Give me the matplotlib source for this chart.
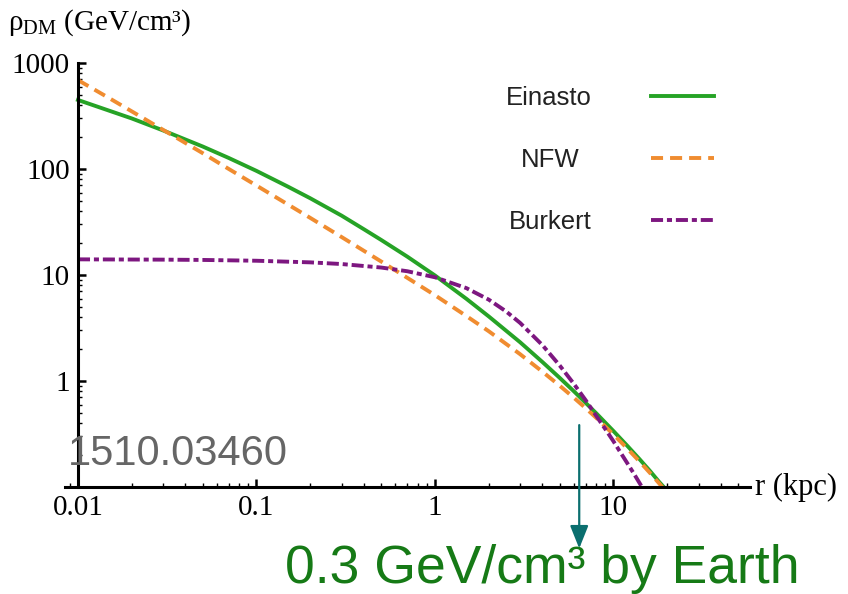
import numpy as np
import matplotlib
matplotlib.use("Agg")
import matplotlib.pyplot as plt

plt.rcParams['mathtext.fontset'] = 'custom'
plt.rcParams['mathtext.rm'] = 'Liberation Serif'
plt.rcParams['mathtext.it'] = 'Liberation Serif:italic'

# --- datos (r en kpc, rho en GeV/cm^3) ---
r_einasto = [0.01, 0.02, 0.03, 0.05, 0.07, 0.1, 0.15, 0.2, 0.3, 0.4, 0.5, 0.7, 1, 1.5,
             2, 3, 4, 5, 6, 7, 8, 10, 12, 14, 16, 18, 20]
rho_einasto = [448, 300, 231, 163, 127, 96, 68.2, 53, 36.3, 27.0, 21.4, 14.9, 9.9, 5.96,
               4.07, 2.32, 1.51, 1.07, 0.80, 0.62, 0.497, 0.337, 0.243, 0.183, 0.142, 0.112, 0.092]

r_nfw = [0.01, 0.015, 0.02, 0.03, 0.05, 0.07, 0.1, 0.15, 0.2, 0.3, 0.5, 0.7, 1, 1.5,
         2, 3, 4, 5, 6, 7, 8, 10, 12, 14, 16, 18, 20]
rho_nfw = [690, 465, 350, 234, 141, 100, 69.8, 46.3, 34.6, 22.8, 13.4, 9.4, 6.45, 4.1,
           2.95, 1.79, 1.224, 0.902, 0.695, 0.553, 0.45, 0.313, 0.229, 0.174, 0.136, 0.1085, 0.088]

r_burkert = [0.01, 0.03, 0.05, 0.1, 0.2, 0.3, 0.5, 0.7, 1, 1.5, 2, 2.5, 3, 4, 5, 6,
             7, 8, 9, 10, 11, 12, 13, 14, 15]
rho_burkert = [14.05, 13.96, 13.87, 13.63, 13.16, 12.69, 11.76, 10.85, 9.52, 7.52, 5.86,
               4.54, 3.53, 2.18, 1.40, 0.94, 0.656, 0.47, 0.352, 0.27, 0.209, 0.166,
               0.134, 0.109, 0.090]

x_ticks = [0.01, 0.1, 1, 10]
x_labels = ["0.01", "0.1", "1", "10"]
y_ticks = [1, 10, 100, 1000]
y_labels = ["1", "10", "100", "1000"]

r_tierra = 6.43  # posicion de la flecha

verde = '#26a326'
naranja = '#f08c30'
morado = '#7d1780'

fig = plt.figure(figsize=(8.48, 5.94), dpi=100)
ax = fig.add_axes([65/848, 1-487/594, 685/848, 424/594])

lw = 2.8
ax.plot(r_einasto, rho_einasto, color=verde, lw=lw, label='Einasto')
ax.plot(r_nfw, rho_nfw, color=naranja, lw=lw, dashes=(3.1, 1.8), label='NFW')
ax.plot(r_burkert, rho_burkert, color=morado, lw=lw, dashes=(3.1, 1.0, 1.3, 1.0), label='Burkert')

ax.set_xscale('log')
ax.set_yscale('log')
ax.set_xlim(0.00846, 58.2)
ax.set_ylim(0.1, 1000)

for s in ['top', 'right']:
    ax.spines[s].set_visible(False)
ax.spines['left'].set_position(('data', 0.01))
for s in ['left', 'bottom']:
    ax.spines[s].set_linewidth(2.2)

ax.set_xticks(x_ticks, x_labels)
ax.set_yticks(y_ticks, y_labels)
ax.tick_params(which='major', direction='in', length=6, width=1.8, labelsize=21, pad=6)
ax.tick_params(which='minor', direction='in', length=3, width=1.0)
for t in ax.get_xticklabels() + ax.get_yticklabels():
    t.set_fontfamily('Liberation Serif')

leg = ax.legend(loc='upper right', bbox_to_anchor=(0.947, 0.946), frameon=False,
                markerfirst=False, handlelength=2.45, handletextpad=2.3,
                labelspacing=1.49, borderpad=0, borderaxespad=0,
                prop={'family': 'Liberation Sans', 'size': 18.5})
for t in leg.get_texts():
    t.set_color('#222222')
# centrar "NFW" como en el original
leg.get_texts()[1].set_position((-12, 0))

fig.text(8/848, 1-30/594, r'ρ$_{\mathrm{DM}}$ (GeV/cm³)', fontsize=21,
         fontfamily='Liberation Serif', va='baseline', ha='left')
ax.text(1.008, 0, 'r (kpc)', transform=ax.transAxes, fontsize=22,
        fontfamily='Liberation Serif', va='center', ha='left')

fig.text(68/848, 1-465/594, '1510.03460', fontsize=30, color='#666666',
         fontfamily='Liberation Sans', va='baseline', ha='left')

ax.annotate('', xy=(r_tierra, -0.145), xytext=(r_tierra, 0.146),
            xycoords=('data', 'axes fraction'), textcoords=('data', 'axes fraction'),
            annotation_clip=False,
            arrowprops=dict(arrowstyle='-|>,head_length=0.5,head_width=0.2',
                            mutation_scale=28, lw=1.6, color='#0b6f6f',
                            shrinkA=0, shrinkB=0))

fig.text(285/848, 1-583/594, '0.3 GeV/cm³ by Earth', fontsize=38.5, color='#167a16',
         fontfamily='Liberation Sans', va='baseline', ha='left')

fig.savefig('out.png', dpi=100)
